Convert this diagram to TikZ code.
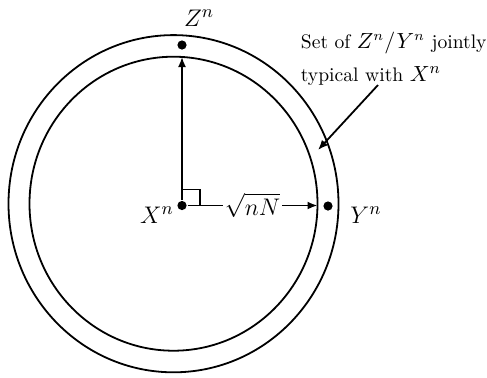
\documentclass[tikz,border=0pt]{standalone}
\usetikzlibrary{arrows.meta}
\begin{document}
\begin{tikzpicture}[x=0.5pt,y=-0.5pt,line width=0.9pt,
  dot/.style={circle,fill=black,inner sep=0pt,minimum size=4.6pt},
  arr/.style={-{Latex[length=5pt,width=4pt]}},
  big/.style={font=\fontsize{13}{15}\selectfont,inner sep=0pt},
  txt/.style={font=\fontsize{9.8}{13}\selectfont,inner sep=0pt,anchor=base west}]
\useasboundingbox (0,0) rectangle (487,377);
\coordinate (c) at (173.5,203.7);
\draw (c) ellipse [x radius=82.5pt, y radius=84.3pt];
\draw (c) ellipse [x radius=72pt, y radius=73.5pt];
\node[dot] (X) at (182,205.5) {};
\node[dot] (Z) at (182,45) {};
\node[dot] (Y) at (328,206) {};
\coordinate (zt) at (182,57);
\coordinate (yt) at (317.5,205.5);
\draw[arr] (X) -- (zt);
\draw[arr] (X) -- node[fill=white,inner sep=1pt,font=\fontsize{13}{15}\selectfont] (s) {$\sqrt{nN}$} (yt);
\draw ([yshift=8pt]X.center) -| ([xshift=9pt]X.center);
\node[big,anchor=base] (zl) at (199,26) {$Z^n$};
\node[big,anchor=base] (xl) at (157,223) {$X^n$};
\node[big,anchor=base] (yl) at (366,223) {$Y^n$};
\node[txt] (t1) at (300,48) {Set of {\fontsize{10.5}{13}\selectfont$Z^n/Y^n$} jointly};
\node[txt] (t2) at (300,81) {typical with {\fontsize{11}{13}\selectfont$X^n$}};
\coordinate (a1) at (378,85);
\coordinate (a2) at (318,150);
\draw[arr] (a1) -- (a2);
\end{tikzpicture}
\end{document}
